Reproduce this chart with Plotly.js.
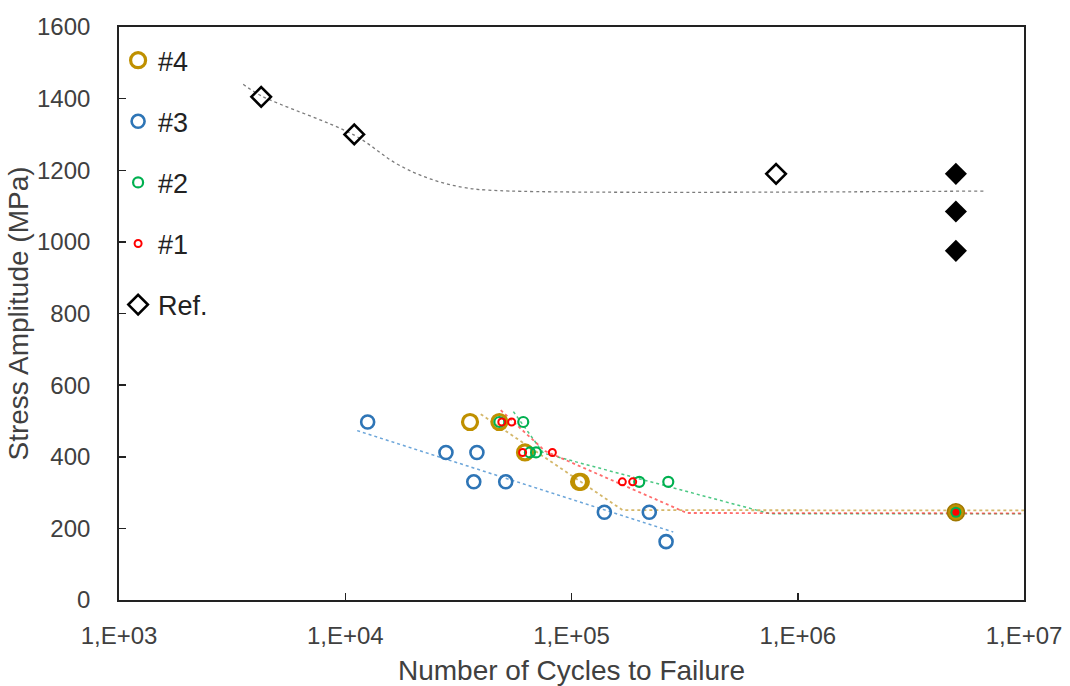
<!DOCTYPE html>
<html>
<head>
<meta charset="utf-8">
<script src="https://cdn.plot.ly/plotly-3.0.1.min.js"></script>
<style>html,body{margin:0;padding:0;background:#fff;}#chart{width:1070px;height:686px;}</style>
</head>
<body>
<div id="chart"></div>
<script>
// ---- data ----
var xTickVals = [1e3, 1e4, 1e5, 1e6, 1e7];
var xTickText = ['1,E+03', '1,E+04', '1,E+05', '1,E+06', '1,E+07'];

var refN = [4250, 10960, 802000];
var refS = [1405, 1300, 1190];
var refRunN = [5e6, 5e6, 5e6];
var refRunS = [1190, 1085, 975];
var refFitN = [3540, 4250, 10960, 16870, 23700, 33300, 48000, 6730000];
var refFitS = [1440, 1408, 1298, 1218, 1176, 1152, 1143, 1142];

var s4N = [35600, 48000, 62300, 108000, 110000];
var s4S = [497, 497, 412, 330, 330];
var s4RunN = [5e6];
var s4RunS = [245];
var s4FitN = [39700, 168300, 1e7];
var s4FitS = [519, 251, 250];

var s3N = [12560, 27870, 38190, 36990, 51200, 139700, 220700, 261800];
var s3S = [497, 412, 412, 330, 330, 245, 245, 163];
var s3FitN = [11290, 281600];
var s3FitS = [473, 190];

var s2N = [48000, 61200, 65500, 69700, 199300, 267800];
var s2S = [497, 497, 412, 412, 330, 330];
var s2RunN = [5e6];
var s2RunS = [245];
var s2FitN = [55350, 75150, 753700, 1e7];
var s2FitS = [526, 410, 241, 241];

var s1N = [49200, 54400, 60800, 82300, 167700, 186400];
var s1S = [497, 497, 412, 412, 330, 330];
var s1RunN = [5e6];
var s1RunS = [245];
var s1FitN = [48650, 76400, 323600, 1e7];
var s1FitS = [530, 416, 243, 242];

var names = ['#4', '#3', '#2', '#1', 'Ref.'];

// ---- styles ----
var cGold = '#BF9000', cBlue = '#2E75B6', cGreen = '#00B050', cRed = '#FF0000';
var font = 'Liberation Sans, Arial, sans-serif';

function fit(x, y, color, w, shape) {
  return {x: x, y: y, mode: 'lines', type: 'scatter', showlegend: false, hoverinfo: 'skip',
          line: {color: color, width: w, dash: 'dot', shape: shape || 'linear'}};
}
function pts(x, y, name, color, size, lw, grp) {
  return {x: x, y: y, mode: 'markers', type: 'scatter', name: name, legendgroup: grp,
          marker: {symbol: 'circle-open', size: size, color: color, line: {color: color, width: lw}}};
}
function run(x, y, color, size, lw, lc) {
  return {x: x, y: y, mode: 'markers', type: 'scatter', showlegend: false, hoverinfo: 'skip',
          marker: {symbol: 'circle', size: size, color: color, line: {color: lc, width: lw}}};
}

var traces = [
  fit(refFitN, refFitS, 'rgba(110,110,110,0.9)', 1.3, 'spline'),
  fit(s3FitN, s3FitS, 'rgba(91,155,213,0.9)', 1.5),
  fit(s2FitN, s2FitS, 'rgba(0,176,80,0.7)', 1.5),
  fit(s4FitN, s4FitS, 'rgba(205,170,80,0.85)', 1.8),
  fit(s1FitN, s1FitS, 'rgba(255,60,60,0.75)', 1.8),
  pts(s4N, s4S, names[0], cGold, 15, 3.2, 'g4'),
  pts(s3N, s3S, names[1], cBlue, 13, 2.6, 'g3'),
  pts(s2N, s2S, names[2], cGreen, 10, 2.2, 'g2'),
  pts(s1N, s1S, names[3], cRed, 7, 2, 'g1'),
  {x: refN, y: refS, mode: 'markers', type: 'scatter', name: names[4], legendgroup: 'g0',
   marker: {symbol: 'diamond-open', size: 15, color: '#000', line: {color: '#000', width: 2.6}}},
  run(s4RunN, s4RunS, cGold, 17, 1.5, '#A07800'),
  run(s2RunN, s2RunS, cGreen, 11, 0, cGreen),
  run(s1RunN, s1RunS, cRed, 7, 0, cRed),
  {x: refRunN, y: refRunS, mode: 'markers', type: 'scatter', showlegend: false, hoverinfo: 'skip',
   marker: {symbol: 'diamond', size: 17, color: '#000', line: {width: 0}}}
];

var layout = {
  width: 1070, height: 686,
  margin: {l: 119, r: 46, t: 27, b: 86, pad: 0},
  paper_bgcolor: '#fff', plot_bgcolor: '#fff',
  font: {family: font, color: '#404040', size: 24},
  showlegend: true,
  legend: {x: -0.001, xanchor: 'left', y: 0.984, yanchor: 'top', bgcolor: 'rgba(0,0,0,0)',
           font: {family: font, size: 27, color: '#222'}, tracegroupgap: 23, traceorder: 'grouped',
           itemsizing: 'trace'},
  xaxis: {type: 'log', range: [3, 7], tickvals: xTickVals, ticktext: xTickText,
          ticks: 'inside', ticklen: 7, tickwidth: 1.5, tickcolor: '#222',
          showline: true, linecolor: '#222', linewidth: 1.8, mirror: true,
          showgrid: false, zeroline: false, ticklabelstandoff: 13,
          tickfont: {family: font, size: 24, color: '#404040'},
          title: {text: 'Number of Cycles to Failure', font: {family: font, size: 28, color: '#404040'}, standoff: 13}},
  yaxis: {range: [0, 1600], tickmode: 'linear', tick0: 0, dtick: 200,
          ticks: 'inside', ticklen: 7, tickwidth: 1.5, tickcolor: '#222',
          showline: true, linecolor: '#222', linewidth: 1.8, mirror: true,
          showgrid: false, zeroline: false, ticklabelstandoff: 22,
          tickfont: {family: font, size: 24, color: '#404040'},
          title: {text: 'Stress Amplitude (MPa)', font: {family: font, size: 28, color: '#404040'}, standoff: 0}}
};

Plotly.newPlot('chart', traces, layout, {displayModeBar: false, staticPlot: true});
</script>
</body>
</html>
